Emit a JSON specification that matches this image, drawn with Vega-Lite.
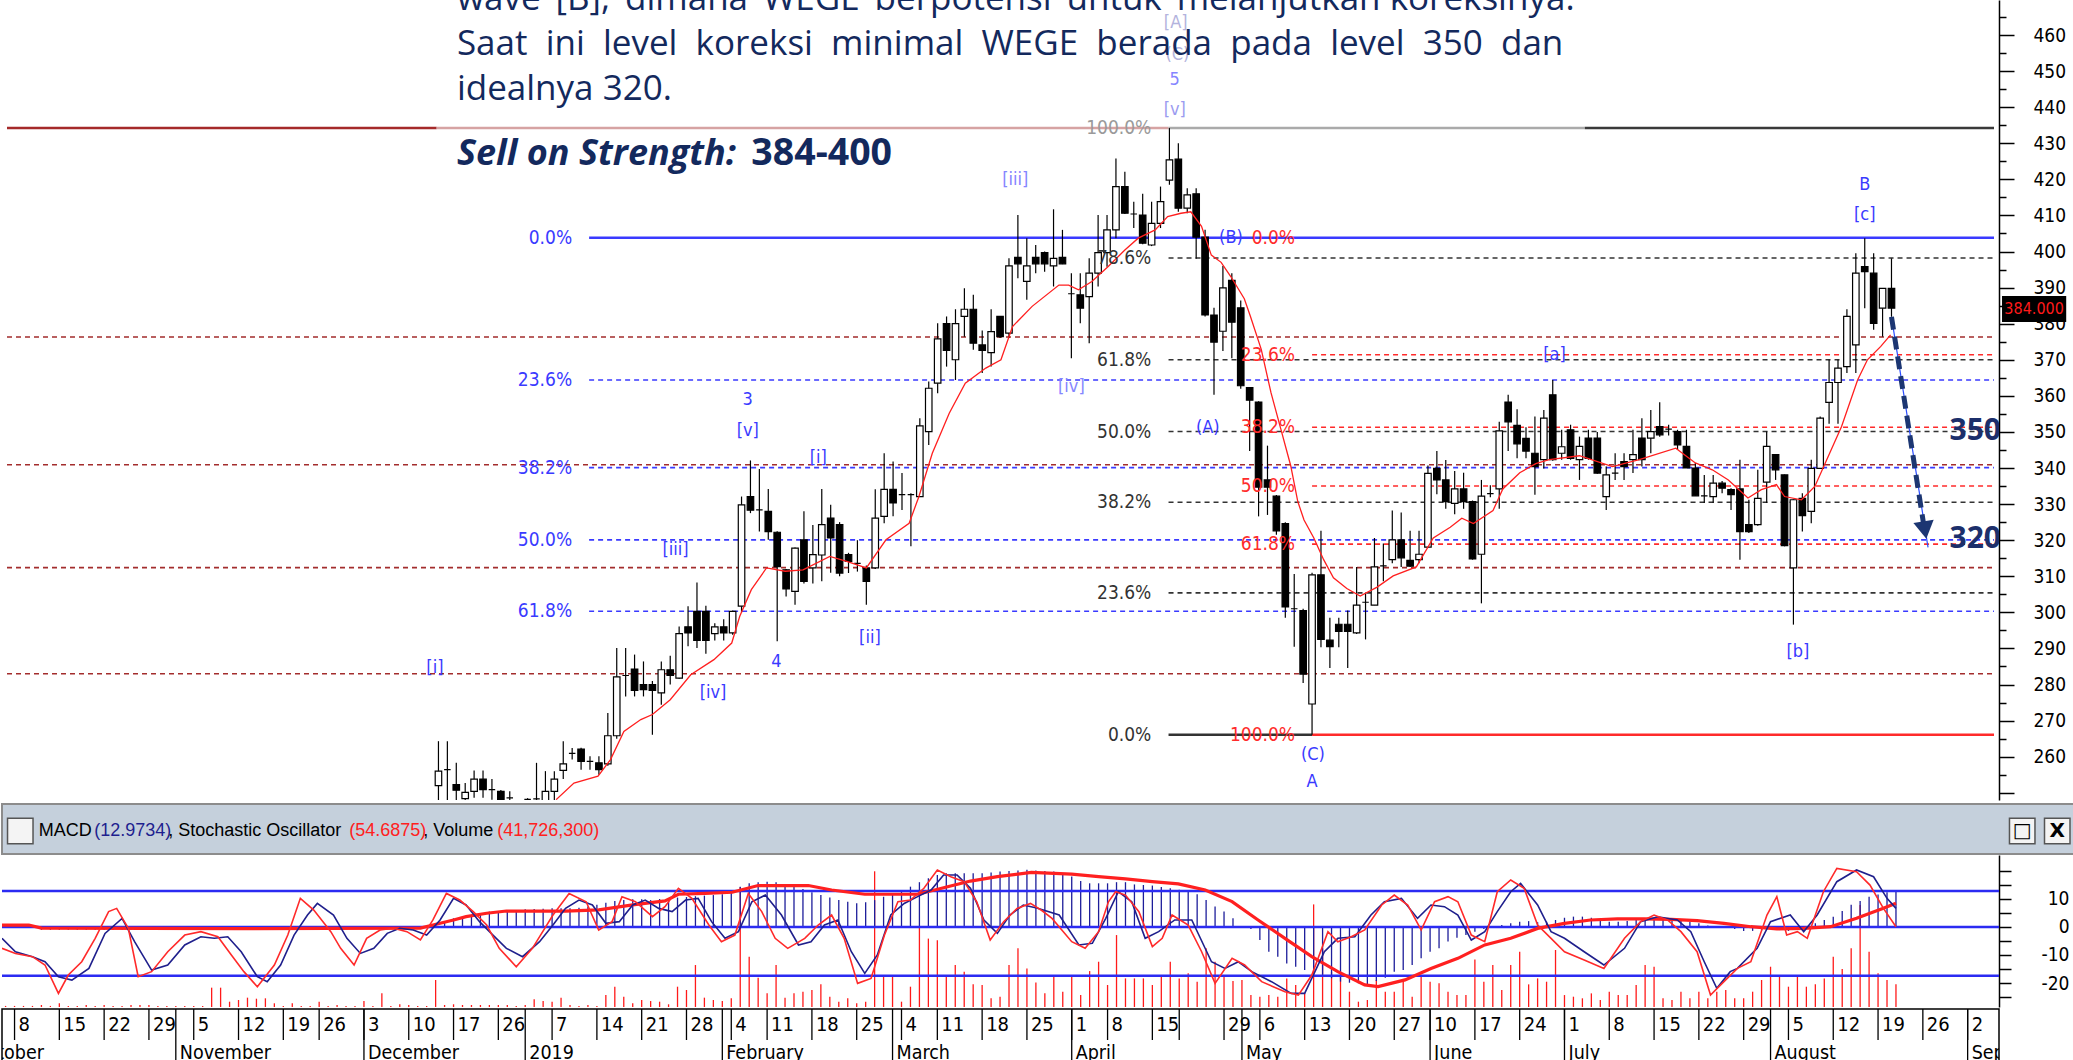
{
"$schema": "https://vega.github.io/schema/vega-lite/v6.json",
"background": "white",
"padding": 0,
"spacing": 0,
"resolve": {"scale": {"color": "independent"}},
"config": {"view": {"stroke": null}, "font": "Liberation Sans",
 "axis": {"labelOverlap": false, "labelFlush": false, "grid": false, "tickColor": "#000", "domainColor": "#000", "labelColor": "#000", "labelFont": "DejaVu Sans Condensed", "labelFontSize": 19, "tickWidth": 1.5, "domainWidth": 1.5, "title": null}},
"datasets": {
"ohlc": [
{"n":52,"o":252,"h":264.3,"l":246,"c":256},
{"n":53,"o":256.4,"h":264.3,"l":246,"c":256.4},
{"n":54,"o":252.3,"h":258.3,"l":247,"c":250.7},
{"n":55,"o":248.4,"h":252.7,"l":247,"c":250.1},
{"n":56,"o":250.4,"h":256.2,"l":248.6,"c":253.8},
{"n":57,"o":253.8,"h":256.2,"l":248.6,"c":250.9},
{"n":58,"o":250.9,"h":253.8,"l":248.1,"c":250.9},
{"n":59,"o":250.4,"h":250.8,"l":247,"c":248.2},
{"n":60,"o":248.6,"h":250.4,"l":247,"c":248.6},
{"n":61,"o":246,"h":247,"l":243,"c":245},
{"n":62,"o":248.2,"h":248.5,"l":245,"c":248.2},
{"n":63,"o":248.3,"h":258.3,"l":246,"c":248.3},
{"n":64,"o":247.5,"h":256,"l":246,"c":250.4},
{"n":65,"o":250.4,"h":256,"l":248,"c":253.8},
{"n":66,"o":256.2,"h":264.3,"l":253.8,"c":258},
{"n":67,"o":260.9,"h":262.4,"l":259.2,"c":260.9},
{"n":68,"o":262.1,"h":262.5,"l":256.4,"c":258.7},
{"n":69,"o":258.7,"h":260.1,"l":256.4,"c":258.7},
{"n":70,"o":258.3,"h":260.1,"l":255,"c":256.4},
{"n":71,"o":258,"h":272.1,"l":257.5,"c":265.8},
{"n":72,"o":265.8,"h":290.1,"l":265,"c":282.1},
{"n":73,"o":282.5,"h":290.1,"l":276.7,"c":282.5},
{"n":74,"o":284.3,"h":288.3,"l":276.7,"c":278.4},
{"n":75,"o":280,"h":286.4,"l":276.7,"c":278.6},
{"n":76,"o":280,"h":281,"l":266.1,"c":278.4},
{"n":77,"o":277.7,"h":286.4,"l":274.4,"c":284.1},
{"n":78,"o":284.1,"h":288,"l":280,"c":282.5},
{"n":79,"o":281.8,"h":296.1,"l":281.6,"c":294.1},
{"n":80,"o":296,"h":301.7,"l":290.6,"c":294.3},
{"n":81,"o":300.3,"h":308.3,"l":290.1,"c":292.2},
{"n":82,"o":300.3,"h":301.8,"l":288.5,"c":292.2},
{"n":83,"o":294.1,"h":297,"l":292.2,"c":296},
{"n":84,"o":296,"h":298.1,"l":292.2,"c":294.3},
{"n":85,"o":294.3,"h":300.5,"l":293.8,"c":300.3},
{"n":86,"o":301.7,"h":332.1,"l":300,"c":329.8},
{"n":87,"o":332.1,"h":342.1,"l":327.5,"c":328.3},
{"n":88,"o":328.4,"h":339.7,"l":322.4,"c":328.4},
{"n":89,"o":328,"h":334.2,"l":320.1,"c":322.4},
{"n":90,"o":322.2,"h":322.5,"l":292,"c":312.7},
{"n":91,"o":311.8,"h":312,"l":304.4,"c":306.5},
{"n":92,"o":305.8,"h":318,"l":302.1,"c":317.8},
{"n":93,"o":320.1,"h":328,"l":308,"c":308.6},
{"n":94,"o":312.3,"h":324.2,"l":308,"c":316},
{"n":95,"o":315.9,"h":334.2,"l":308.6,"c":324.3},
{"n":96,"o":326.1,"h":329.8,"l":311,"c":320.6},
{"n":97,"o":324.3,"h":325,"l":310,"c":310.9},
{"n":98,"o":316,"h":316.5,"l":310.9,"c":314.1},
{"n":99,"o":313.6,"h":320,"l":311.3,"c":313.6},
{"n":100,"o":312.3,"h":313,"l":302.1,"c":308.6},
{"n":101,"o":312.3,"h":334.1,"l":312,"c":326.1},
{"n":102,"o":326.6,"h":344.1,"l":324.7,"c":334.1},
{"n":103,"o":334.1,"h":341.8,"l":326.6,"c":330.3},
{"n":104,"o":332.6,"h":338.6,"l":328.4,"c":332.6},
{"n":105,"o":332.6,"h":333,"l":318.3,"c":332.6},
{"n":106,"o":332.1,"h":353.8,"l":332,"c":351.7},
{"n":107,"o":350.1,"h":364,"l":346.4,"c":362.1},
{"n":108,"o":363.5,"h":380.1,"l":360.7,"c":375.8},
{"n":109,"o":380,"h":382,"l":368.1,"c":372.6},
{"n":110,"o":370,"h":384,"l":364.4,"c":380},
{"n":111,"o":382,"h":389.8,"l":376.4,"c":384},
{"n":112,"o":384,"h":388,"l":372.8,"c":374.6},
{"n":113,"o":374.1,"h":378.1,"l":366.3,"c":372.6},
{"n":114,"o":372,"h":384,"l":368.1,"c":377.8},
{"n":115,"o":382,"h":382,"l":376,"c":376.4},
{"n":116,"o":377.4,"h":398.1,"l":376,"c":396},
{"n":117,"o":398.4,"h":410.1,"l":392.6,"c":396.6},
{"n":118,"o":391.7,"h":403.7,"l":386.6,"c":396},
{"n":119,"o":398.4,"h":401.8,"l":394,"c":396.6},
{"n":120,"o":399.7,"h":400,"l":394.4,"c":396.6},
{"n":121,"o":396,"h":411.7,"l":390.3,"c":398.1},
{"n":122,"o":398.4,"h":406,"l":396.5,"c":396.6},
{"n":123,"o":388.3,"h":394,"l":370.4,"c":388.3},
{"n":124,"o":388,"h":394,"l":380.1,"c":384.3},
{"n":125,"o":387.5,"h":398.1,"l":374.6,"c":394},
{"n":126,"o":394,"h":410.1,"l":390.3,"c":399.7},
{"n":127,"o":399.7,"h":410.1,"l":395.8,"c":406},
{"n":128,"o":406,"h":425.8,"l":403.7,"c":418},
{"n":129,"o":418,"h":422.1,"l":410.4,"c":410.6},
{"n":130,"o":410.4,"h":413.8,"l":406.5,"c":410.4},
{"n":131,"o":410.1,"h":416,"l":402,"c":402.3},
{"n":132,"o":401.8,"h":413.8,"l":401.5,"c":407.8},
{"n":133,"o":407.8,"h":418,"l":406.5,"c":413.8},
{"n":134,"o":419.8,"h":434.2,"l":418.5,"c":425.4},
{"n":135,"o":425.6,"h":430,"l":411,"c":412},
{"n":136,"o":412,"h":417.5,"l":410.6,"c":415.7},
{"n":137,"o":416,"h":417.5,"l":398,"c":404},
{"n":138,"o":404,"h":406,"l":382,"c":382.4},
{"n":139,"o":382.4,"h":384.4,"l":360.3,"c":374.9},
{"n":140,"o":377.9,"h":396,"l":372.4,"c":389.9},
{"n":141,"o":392,"h":394,"l":370.4,"c":380.4},
{"n":142,"o":384.4,"h":386.4,"l":362,"c":362.8},
{"n":143,"o":362.3,"h":362.3,"l":344.7,"c":358.8},
{"n":144,"o":358.3,"h":358.5,"l":326.6,"c":334.7},
{"n":145,"o":336.7,"h":346.2,"l":327,"c":334.7},
{"n":146,"o":332.2,"h":332.5,"l":321.5,"c":322.6},
{"n":147,"o":324.6,"h":325,"l":298.5,"c":301.5},
{"n":148,"o":301,"h":310.6,"l":290.5,"c":301},
{"n":149,"o":300.5,"h":301,"l":280.4,"c":282.9},
{"n":150,"o":274.6,"h":311,"l":266.1,"c":310.4},
{"n":151,"o":310.4,"h":322.6,"l":290.3,"c":292.5},
{"n":152,"o":292.3,"h":298.5,"l":284.6,"c":290.5},
{"n":153,"o":296.7,"h":298.5,"l":290.3,"c":294.7},
{"n":154,"o":296.7,"h":300.5,"l":284.6,"c":294.7},
{"n":155,"o":294.3,"h":312.6,"l":294,"c":302},
{"n":156,"o":302.8,"h":305.5,"l":292.5,"c":302.8},
{"n":157,"o":302,"h":320.6,"l":302,"c":312.6},
{"n":158,"o":312.9,"h":319.1,"l":308.6,"c":312.9},
{"n":159,"o":314.6,"h":328.2,"l":313.6,"c":320.1},
{"n":160,"o":320.1,"h":327.7,"l":312.6,"c":315.1},
{"n":161,"o":314.4,"h":322.6,"l":312.6,"c":312.8},
{"n":162,"o":314.6,"h":322.6,"l":313.6,"c":316.1},
{"n":163,"o":318.1,"h":340.7,"l":318,"c":338.5},
{"n":164,"o":339.9,"h":344.7,"l":332.7,"c":336.7},
{"n":165,"o":336.7,"h":342.2,"l":328.7,"c":330.7},
{"n":166,"o":330.2,"h":339.2,"l":327.2,"c":334.2},
{"n":167,"o":334.2,"h":338.7,"l":328.7,"c":330.7},
{"n":168,"o":330.7,"h":331,"l":314.6,"c":314.8},
{"n":169,"o":316.1,"h":336.7,"l":302.5,"c":332.2},
{"n":170,"o":332.9,"h":335.2,"l":331.9,"c":332.9},
{"n":171,"o":334.2,"h":352.8,"l":328.7,"c":350.3},
{"n":172,"o":358.3,"h":360.3,"l":344.7,"c":352.8},
{"n":173,"o":351.8,"h":356.3,"l":342.7,"c":346.7},
{"n":174,"o":348.2,"h":351.3,"l":342.7,"c":344.7},
{"n":175,"o":344.1,"h":354.3,"l":332.6,"c":340.4},
{"n":176,"o":342.3,"h":356.1,"l":339.9,"c":353.8},
{"n":177,"o":360.3,"h":364.4,"l":342,"c":342.3},
{"n":178,"o":344.1,"h":350.6,"l":342.3,"c":345.9},
{"n":179,"o":350.6,"h":352,"l":342.3,"c":342.7},
{"n":180,"o":342.3,"h":348.7,"l":336.7,"c":346},
{"n":181,"o":348.3,"h":350.6,"l":342.3,"c":342.7},
{"n":182,"o":348.3,"h":350,"l":338.4,"c":338.6},
{"n":183,"o":332.1,"h":340.4,"l":328.4,"c":338.1},
{"n":184,"o":338.6,"h":344.1,"l":336.7,"c":338.6},
{"n":185,"o":341.8,"h":344.1,"l":336.7,"c":340.4},
{"n":186,"o":342.3,"h":350.6,"l":338.6,"c":343.7},
{"n":187,"o":348.3,"h":353.8,"l":340.4,"c":342.3},
{"n":188,"o":348.3,"h":356.1,"l":344.1,"c":350.1},
{"n":189,"o":351.5,"h":358.2,"l":348.7,"c":349.2},
{"n":190,"o":350.8,"h":352,"l":349,"c":350.8},
{"n":191,"o":350.1,"h":350.6,"l":345,"c":346.4},
{"n":192,"o":346,"h":350.6,"l":340,"c":340},
{"n":193,"o":340,"h":341.4,"l":332.3,"c":332.3},
{"n":194,"o":332.3,"h":338.1,"l":330.3,"c":332.3},
{"n":195,"o":332.1,"h":338.1,"l":330.3,"c":335.8},
{"n":196,"o":335.8,"h":336.4,"l":333,"c":334.4},
{"n":197,"o":334,"h":334.4,"l":328.4,"c":332.6},
{"n":198,"o":334.2,"h":342.3,"l":314.6,"c":322.4},
{"n":199,"o":324.3,"h":331.2,"l":322,"c":322.4},
{"n":200,"o":324.3,"h":339.5,"l":324,"c":331.6},
{"n":201,"o":336.1,"h":350.1,"l":330.3,"c":346},
{"n":202,"o":343.7,"h":343.7,"l":336.7,"c":339.5},
{"n":203,"o":338.1,"h":338.2,"l":318.3,"c":318.5},
{"n":204,"o":312.3,"h":331.3,"l":296.6,"c":331.2},
{"n":205,"o":331.6,"h":333,"l":322.4,"c":326.8},
{"n":206,"o":328,"h":342.3,"l":324.7,"c":339.9},
{"n":207,"o":339.9,"h":354.3,"l":339.8,"c":353.8},
{"n":208,"o":358.2,"h":370,"l":352.3,"c":363.7},
{"n":209,"o":363.7,"h":370,"l":352.3,"c":367.7},
{"n":210,"o":368.1,"h":384,"l":366.3,"c":382},
{"n":211,"o":374.1,"h":399.5,"l":366.3,"c":394},
{"n":212,"o":395.8,"h":403.7,"l":384.3,"c":394.4},
{"n":213,"o":394,"h":399.5,"l":378.3,"c":380.1},
{"n":214,"o":384.3,"h":389.8,"l":376.4,"c":389.8},
{"n":215,"o":389.8,"h":398.1,"l":381.9,"c":384.3}
],
"ma": [
{"n":65.2,"v":248.1},{"n":67.2,"v":252.7},{"n":69.9,"v":254.6},{"n":71.3,"v":259.2},{"n":72.8,"v":267},{"n":74.7,"v":270.3},{"n":76,"v":271.7},{"n":78,"v":275.8},{"n":80.3,"v":282.7},{"n":82.9,"v":286.9},{"n":84.9,"v":291.5},{"n":85.8,"v":298.9},{"n":87.1,"v":306.3},{"n":88.8,"v":312.3},{"n":90.9,"v":311.4},{"n":92.9,"v":311.8},{"n":95.9,"v":315.5},{"n":97.8,"v":314.1},{"n":100,"v":312.3},{"n":102.2,"v":320.1},{"n":104.8,"v":324.7},{"n":105.9,"v":332.1},{"n":107.4,"v":344.1},{"n":109.3,"v":355.2},{"n":111.1,"v":363.5},{"n":113.4,"v":367.7},{"n":115.1,"v":370},{"n":116.4,"v":379.2},{"n":118.6,"v":384.8},{"n":121.6,"v":390.7},{"n":122.7,"v":390.7},{"n":123.8,"v":389.4},{"n":125.3,"v":391.7},{"n":127.1,"v":395.8},{"n":129,"v":400.4},{"n":130.5,"v":403.7},{"n":132.4,"v":406},{"n":133.8,"v":409.7},{"n":135.3,"v":410.6},{"n":136.4,"v":411},{"n":137.6,"v":407},{"n":138.7,"v":399},{"n":139.8,"v":397},{"n":140.9,"v":393},{"n":142.4,"v":386.9},{"n":143.1,"v":381.9},{"n":144.3,"v":372.9},{"n":145.4,"v":360.8},{"n":146.5,"v":350.8},{"n":147.6,"v":340.7},{"n":148.4,"v":330.7},{"n":149.1,"v":325.6},{"n":150.2,"v":320.6},{"n":151.3,"v":314.6},{"n":152.4,"v":309.6},{"n":153.9,"v":306.6},{"n":155.4,"v":304.5},{"n":157.3,"v":307},{"n":159.1,"v":310.1},{"n":161.7,"v":312.6},{"n":163.6,"v":320.6},{"n":165.5,"v":323.6},{"n":166.8,"v":326.1},{"n":168.1,"v":324.6},{"n":170.3,"v":328.2},{"n":171.4,"v":334.2},{"n":173.3,"v":338.7},{"n":175.1,"v":341.2},{"n":176.6,"v":342.3},{"n":180,"v":343.4},{"n":183.7,"v":340.4},{"n":186.7,"v":342.3},{"n":190.8,"v":345.5},{"n":193,"v":341.4},{"n":194.9,"v":339.5},{"n":196.7,"v":336.7},{"n":198.9,"v":331.7},{"n":200.4,"v":334},{"n":202.1,"v":335.4},{"n":203,"v":332.1},{"n":204.9,"v":331.2},{"n":206.4,"v":334.9},{"n":207.9,"v":343.2},{"n":209.4,"v":351.5},{"n":211.2,"v":364.4},{"n":212.3,"v":370},{"n":213.8,"v":373.7},{"n":214.9,"v":376.9}
],
"fib": [
{"p":403.8,"a":68.9,"b":226.5,"g":"b","s":"s"},
{"p":364.4,"a":68.9,"b":226.5,"g":"b","s":"d"},
{"p":340.1,"a":68.9,"b":226.5,"g":"b","s":"d"},
{"p":320.1,"a":68.9,"b":226.5,"g":"b","s":"d"},
{"p":300.3,"a":68.9,"b":226.5,"g":"b","s":"d"},
{"p":398.2,"a":133.9,"b":226.5,"g":"k","s":"d"},
{"p":370.0,"a":133.9,"b":226.5,"g":"k","s":"d"},
{"p":350.1,"a":133.9,"b":226.5,"g":"k","s":"d"},
{"p":330.5,"a":133.9,"b":226.5,"g":"k","s":"d"},
{"p":305.4,"a":133.9,"b":226.5,"g":"k","s":"d"},
{"p":266.1,"a":133.9,"b":150,"g":"k","s":"s"},
{"p":371.4,"a":150,"b":226.5,"g":"r","s":"d"},
{"p":351.3,"a":150,"b":226.5,"g":"r","s":"d"},
{"p":335.0,"a":150,"b":226.5,"g":"r","s":"d"},
{"p":318.9,"a":150,"b":226.5,"g":"r","s":"d"},
{"p":266.1,"a":150,"b":226.5,"g":"r","s":"s"},
{"p":376.3,"a":3.6,"b":226.5,"g":"dr","s":"d"},
{"p":340.9,"a":3.6,"b":226.5,"g":"dr","s":"d"},
{"p":312.4,"a":3.6,"b":226.5,"g":"dr","s":"d"},
{"p":283.0,"a":3.6,"b":226.5,"g":"dr","s":"d"},
{"p":434.2,"a":3.6,"b":51.8,"g":"t1","s":"s"},
{"p":434.2,"a":51.8,"b":133.9,"g":"t2","s":"s"},
{"p":434.2,"a":133.9,"b":180.6,"g":"t3","s":"s"},
{"p":434.2,"a":180.6,"b":226.5,"g":"t4","s":"s"}
],
"fiblab": [
{"t":"0.0%","n":67.0,"p":403.8,"g":"b"},
{"t":"23.6%","n":67.0,"p":364.4,"g":"b"},
{"t":"38.2%","n":67.0,"p":340.1,"g":"b"},
{"t":"50.0%","n":67.0,"p":320.1,"g":"b"},
{"t":"61.8%","n":67.0,"p":300.3,"g":"b"},
{"t":"100.0%","n":131.97,"p":434.2,"g":"gl"},
{"t":"78.6%","n":131.97,"p":398.2,"g":"k"},
{"t":"61.8%","n":131.97,"p":370.0,"g":"k"},
{"t":"50.0%","n":131.97,"p":350.1,"g":"k"},
{"t":"38.2%","n":131.97,"p":330.5,"g":"k"},
{"t":"23.6%","n":131.97,"p":305.4,"g":"k"},
{"t":"0.0%","n":131.97,"p":266.1,"g":"k"},
{"t":"0.0%","n":148.1,"p":403.8,"g":"r"},
{"t":"23.6%","n":148.1,"p":371.4,"g":"r"},
{"t":"38.2%","n":148.1,"p":351.3,"g":"r"},
{"t":"50.0%","n":148.1,"p":335.0,"g":"r"},
{"t":"61.8%","n":148.1,"p":318.9,"g":"r"},
{"t":"100.0%","n":148.1,"p":266.1,"g":"r"}
],
"wave": [
{"t":"[i]","n":51.6,"p":284.7,"g":"w"},
{"t":"[iii]","n":78.6,"p":317.3,"g":"w"},
{"t":"[iv]","n":82.8,"p":277.7,"g":"w"},
{"t":"3","n":86.7,"p":358.9,"g":"w"},
{"t":"[v]","n":86.7,"p":350.3,"g":"w"},
{"t":"4","n":89.9,"p":286.3,"g":"w"},
{"t":"[i]","n":94.6,"p":342.8,"g":"w"},
{"t":"[ii]","n":100.4,"p":293.0,"g":"w"},
{"t":"[iii]","n":116.7,"p":419.8,"g":"p2"},
{"t":"[iv]","n":123.0,"p":362.5,"g":"p2"},
{"t":"(B)","n":140.9,"p":403.8,"g":"w"},
{"t":"(A)","n":138.3,"p":351.0,"g":"w"},
{"t":"(C)","n":150.1,"p":260.6,"g":"w"},
{"t":"A","n":150.0,"p":253.1,"g":"w"},
{"t":"[a]","n":177.2,"p":371.4,"g":"w"},
{"t":"B","n":212.0,"p":418.5,"g":"w"},
{"t":"[c]","n":212.0,"p":410.0,"g":"w"},
{"t":"[b]","n":204.5,"p":289.1,"g":"w"},
{"t":"[A]","n":134.7,"p":463.3,"g":"p1"},
{"t":"(C)","n":134.9,"p":454.5,"g":"p1"},
{"t":"5","n":134.6,"p":447.5,"g":"p2"},
{"t":"[v]","n":134.6,"p":439.2,"g":"p3"}
],
"slide": [
{"t":"wave \u2006[B], \u2006dimana \u2006WEGE \u2006berpotensi \u2006untuk \u2006melanjutkan koreksinya.","n":54.07,"p":466.9},
{"t":"Saat \u00a0ini \u00a0level \u00a0koreksi \u00a0minimal \u00a0WEGE \u00a0berada \u00a0pada \u00a0level \u00a0350 \u00a0dan","n":54.07,"p":454.5},
{"t":"idealnya 320.","n":54.07,"p":442.0}
],
"sos": [{"t":"Sell on Strength:","n":54.07,"p":424.0}],
"sosv": [{"t":"384-400","n":87.1,"p":424.0}],
"targets": [{"t":"350","n":224.4,"p":350.2},{"t":"320","n":224.4,"p":320.3}],
"proj": [{"n":215,"p":381.9,"n2":218.6,"p2":324.5}],
"projthin": [{"n":215,"p":381.9,"n2":219.1,"p2":318.0}],
"head": [{"n":218.75,"p":322.8}],
"tag": [{"t":"384.000","p":384.0}],
"hdr": [
{"t":"MACD","n":7.70,"g":"lab"},
{"t":"(12.9734)","n":13.90,"g":"m"},
{"t":", Stochastic Oscillator","n":22.15,"g":"lab"},
{"t":"(54.6875)","n":42.35,"g":"s"},
{"t":", Volume","n":50.61,"g":"lab"},
{"t":"(41,726,300)","n":58.87,"g":"s"}
],
"btn": [{"n":5.64,"t":""},{"n":229.07,"t":"\u25a1"},{"n":232.98,"t":"X"}],
"vol": [
{"n":4,"v":2},{"n":5,"v":2},{"n":6,"v":2},{"n":7,"v":2},{"n":8,"v":3.7},{"n":9,"v":2},{"n":10,"v":6.8},{"n":11,"v":2},{"n":12,"v":2},{"n":13,"v":3.7},{"n":14,"v":2},{"n":15,"v":3.7},{"n":16,"v":2},{"n":17,"v":2},{"n":18,"v":3.7},{"n":19,"v":3.7},{"n":20,"v":3.7},{"n":21,"v":2},{"n":22,"v":2},{"n":23,"v":2},{"n":24,"v":2},{"n":25,"v":2},{"n":26,"v":2},{"n":27,"v":35.6},{"n":28,"v":35.6},{"n":29,"v":9.8},{"n":30,"v":12.9},{"n":31,"v":17.2},{"n":32,"v":15.3},{"n":33,"v":16},{"n":34,"v":6.8},{"n":35,"v":2},{"n":36,"v":6.8},{"n":37,"v":2},{"n":38,"v":2},{"n":39,"v":9.8},{"n":40,"v":2},{"n":41,"v":3.7},{"n":42,"v":2},{"n":43,"v":2},{"n":44,"v":11},{"n":45,"v":2},{"n":46,"v":25.1},{"n":47,"v":2},{"n":48,"v":5},{"n":49,"v":3.7},{"n":50,"v":2},{"n":51,"v":2},{"n":52,"v":49.7},{"n":53,"v":3.7},{"n":54,"v":5},{"n":55,"v":3.7},{"n":56,"v":3.7},{"n":57,"v":3.7},{"n":58,"v":3.7},{"n":59,"v":3.7},{"n":60,"v":3.7},{"n":61,"v":2},{"n":62,"v":3.7},{"n":63,"v":14.1},{"n":64,"v":11},{"n":65,"v":9.8},{"n":66,"v":17.2},{"n":67,"v":3.7},{"n":68,"v":2},{"n":69,"v":3.7},{"n":70,"v":2},{"n":71,"v":22},{"n":72,"v":37.4},{"n":73,"v":19},{"n":74,"v":6.8},{"n":75,"v":12.9},{"n":76,"v":11},{"n":77,"v":9.8},{"n":78,"v":5},{"n":79,"v":37.4},{"n":80,"v":31.3},{"n":81,"v":77.3},{"n":82,"v":17.2},{"n":83,"v":12.9},{"n":84,"v":11},{"n":85,"v":16},{"n":86,"v":221},{"n":87,"v":92.6},{"n":88,"v":54},{"n":89,"v":25.1},{"n":90,"v":77.3},{"n":91,"v":17.2},{"n":92,"v":25.1},{"n":93,"v":28.2},{"n":94,"v":31.3},{"n":95,"v":41.7},{"n":96,"v":19},{"n":97,"v":9.8},{"n":98,"v":16},{"n":99,"v":6.8},{"n":100,"v":9.8},{"n":101,"v":250},{"n":102,"v":58.9},{"n":103,"v":58.9},{"n":104,"v":9.8},{"n":105,"v":37.4},{"n":106,"v":146},{"n":107,"v":126},{"n":108,"v":123},{"n":109,"v":55.8},{"n":110,"v":77.3},{"n":111,"v":65},{"n":112,"v":41.7},{"n":113,"v":40.5},{"n":114,"v":16},{"n":115,"v":19},{"n":116,"v":77.3},{"n":117,"v":108},{"n":118,"v":71.1},{"n":119,"v":45},{"n":120,"v":25.1},{"n":121,"v":58.9},{"n":122,"v":28.2},{"n":123,"v":58.9},{"n":124,"v":22},{"n":125,"v":66.2},{"n":126,"v":83.4},{"n":127,"v":40.5},{"n":128,"v":132.5},{"n":129,"v":52.7},{"n":130,"v":52.7},{"n":131,"v":52.7},{"n":132,"v":40.5},{"n":133,"v":58.9},{"n":134,"v":83.4},{"n":135,"v":52.7},{"n":136,"v":62},{"n":137,"v":46.6},{"n":138,"v":108},{"n":139,"v":83.4},{"n":140,"v":58.9},{"n":141,"v":47.8},{"n":142,"v":49.7},{"n":143,"v":22},{"n":144,"v":19},{"n":145,"v":22},{"n":146,"v":19},{"n":147,"v":52.7},{"n":148,"v":40.5},{"n":149,"v":25.1},{"n":150,"v":189},{"n":151,"v":108},{"n":152,"v":65},{"n":153,"v":58.9},{"n":154,"v":28.2},{"n":155,"v":9.8},{"n":156,"v":12.9},{"n":157,"v":49.7},{"n":158,"v":28.2},{"n":159,"v":28.2},{"n":160,"v":46.6},{"n":161,"v":19},{"n":162,"v":55.8},{"n":163,"v":46.6},{"n":164,"v":43.6},{"n":165,"v":28.2},{"n":166,"v":22},{"n":167,"v":22},{"n":168,"v":87.6},{"n":169,"v":46.6},{"n":170,"v":77.3},{"n":171,"v":31.3},{"n":172,"v":77.3},{"n":173,"v":101.8},{"n":174,"v":41.7},{"n":175,"v":52.7},{"n":176,"v":46.6},{"n":177,"v":105},{"n":178,"v":22},{"n":179,"v":19},{"n":180,"v":16},{"n":181,"v":25.1},{"n":182,"v":12.9},{"n":183,"v":28.2},{"n":184,"v":22},{"n":185,"v":22},{"n":186,"v":40.5},{"n":187,"v":77.3},{"n":188,"v":74.2},{"n":189,"v":16},{"n":190,"v":12.9},{"n":191,"v":28.2},{"n":192,"v":16},{"n":193,"v":28.2},{"n":194,"v":16},{"n":195,"v":28.2},{"n":196,"v":31.3},{"n":197,"v":16},{"n":198,"v":16},{"n":199,"v":28.2},{"n":200,"v":49.7},{"n":201,"v":74.2},{"n":202,"v":58.9},{"n":203,"v":37.4},{"n":204,"v":55.8},{"n":205,"v":37.4},{"n":206,"v":41.7},{"n":207,"v":52.7},{"n":208,"v":92.6},{"n":209,"v":69.9},{"n":210,"v":108},{"n":211,"v":187.7},{"n":212,"v":101.8},{"n":213,"v":62},{"n":214,"v":49.7},{"n":215,"v":41.7}
],
"hist": [
{"n":4,"h":0.3},{"n":5,"h":0.3},{"n":6,"h":0.3},{"n":7,"h":0.3},{"n":8,"h":-1},{"n":9,"h":-1},{"n":10,"h":-1},{"n":11,"h":-1},{"n":12,"h":-1},{"n":13,"h":-1},{"n":14,"h":-1},{"n":15,"h":-1},{"n":16,"h":-1},{"n":17,"h":-1},{"n":18,"h":-1},{"n":19,"h":-1},{"n":20,"h":-1},{"n":21,"h":-1},{"n":22,"h":-1},{"n":23,"h":-1},{"n":24,"h":-1},{"n":25,"h":-1},{"n":26,"h":-1},{"n":27,"h":-0.6},{"n":28,"h":-0.6},{"n":29,"h":-0.6},{"n":30,"h":-0.6},{"n":31,"h":-0.6},{"n":32,"h":-0.6},{"n":33,"h":-0.6},{"n":34,"h":-0.6},{"n":35,"h":-0.6},{"n":36,"h":-0.6},{"n":37,"h":-0.6},{"n":38,"h":-0.4},{"n":39,"h":-0.4},{"n":40,"h":-0.4},{"n":41,"h":-0.4},{"n":42,"h":-0.4},{"n":43,"h":-0.4},{"n":44,"h":-0.4},{"n":45,"h":-0.4},{"n":46,"h":-0.4},{"n":47,"h":-0.4},{"n":48,"h":-0.4},{"n":49,"h":-0.4},{"n":50,"h":-0.4},
{"n":51,"h":0.1},{"n":52,"h":1.0},{"n":53,"h":2.1},{"n":54,"h":3.1},{"n":55,"h":3.7},{"n":56,"h":4.3},{"n":57,"h":4.9},{"n":58,"h":5.5},{"n":59,"h":5.7},{"n":60,"h":5.9},{"n":61,"h":6.1},{"n":62,"h":6.3},{"n":63,"h":6.4},{"n":64,"h":6.5},{"n":65,"h":6.7},{"n":66,"h":6.7},{"n":67,"h":6.7},{"n":68,"h":6.9},{"n":69,"h":7.3},{"n":70,"h":7.9},{"n":71,"h":8.7},{"n":72,"h":9.3},{"n":73,"h":9.6},{"n":74,"h":9.9},{"n":75,"h":9.9},{"n":76,"h":9.6},{"n":77,"h":10.0},{"n":78,"h":10.2},{"n":79,"h":10.5},{"n":80,"h":10.7},{"n":81,"h":11.0},{"n":82,"h":11.2},{"n":83,"h":11.4},{"n":84,"h":11.7},{"n":85,"h":12.9},{"n":86,"h":14.4},{"n":87,"h":15.6},{"n":88,"h":16.0},{"n":89,"h":16.2},{"n":90,"h":16.0},{"n":91,"h":15.2},{"n":92,"h":14.4},{"n":93,"h":13.6},{"n":94,"h":12.4},{"n":95,"h":11.4},{"n":96,"h":10.5},{"n":97,"h":9.6},{"n":98,"h":9.0},{"n":99,"h":8.5},{"n":100,"h":8.8},{"n":101,"h":9.6},{"n":102,"h":10.8},{"n":103,"h":12.0},{"n":104,"h":13.2},{"n":105,"h":14.4},{"n":106,"h":16.0},{"n":107,"h":17.4},{"n":108,"h":18.6},{"n":109,"h":19.2},{"n":110,"h":19.2},{"n":111,"h":19.2},{"n":112,"h":19.2},{"n":113,"h":19.2},{"n":114,"h":19.5},{"n":115,"h":19.8},{"n":116,"h":20.0},{"n":117,"h":20.2},{"n":118,"h":20.4},{"n":119,"h":20.2},{"n":120,"h":20.0},{"n":121,"h":19.8},{"n":122,"h":19.2},{"n":123,"h":18.0},{"n":124,"h":16.4},{"n":125,"h":15.6},{"n":126,"h":15.6},{"n":127,"h":15.6},{"n":128,"h":16.0},{"n":129,"h":16.0},{"n":130,"h":15.2},{"n":131,"h":15.0},{"n":132,"h":14.8},{"n":133,"h":14.3},{"n":134,"h":13.8},{"n":135,"h":13.3},{"n":136,"h":12.6},{"n":137,"h":11.7},{"n":138,"h":9.6},{"n":139,"h":7.3},{"n":140,"h":5.5},{"n":141,"h":3.1},{"n":142,"h":0.1},{"n":143,"h":-0.7},{"n":144,"h":-4.6},{"n":145,"h":-8.8},{"n":146,"h":-10.6},{"n":147,"h":-13.0},{"n":148,"h":-14.2},{"n":149,"h":-15.4},{"n":150,"h":-16.0},{"n":151,"h":-17.1},{"n":152,"h":-18.3},{"n":153,"h":-19.5},{"n":154,"h":-19.9},{"n":155,"h":-20.1},{"n":156,"h":-20.5},{"n":157,"h":-19.3},{"n":158,"h":-18.1},{"n":159,"h":-16.0},{"n":160,"h":-15.4},{"n":161,"h":-13.6},{"n":162,"h":-11.2},{"n":163,"h":-8.8},{"n":164,"h":-7.6},{"n":165,"h":-5.2},{"n":166,"h":-3.8},{"n":167,"h":-2.9},{"n":168,"h":-1.7},{"n":169,"h":-0.7},{"n":170,"h":-0.2},{"n":171,"h":0.7},{"n":172,"h":1.3},{"n":173,"h":1.9},{"n":174,"h":2.1},{"n":175,"h":1.7},{"n":176,"h":1.9},{"n":177,"h":2.5},{"n":178,"h":3.3},{"n":179,"h":3.7},{"n":180,"h":3.7},{"n":181,"h":3.3},{"n":182,"h":2.5},{"n":183,"h":1.9},{"n":184,"h":1.9},{"n":185,"h":2.1},{"n":186,"h":2.5},{"n":187,"h":2.9},{"n":188,"h":3.1},{"n":189,"h":3.1},{"n":190,"h":2.9},{"n":191,"h":2.5},{"n":192,"h":1.9},{"n":193,"h":1.3},{"n":194,"h":0.5},{"n":195,"h":0.1},{"n":196,"h":-0.2},{"n":197,"h":-0.7},{"n":198,"h":-1.4},{"n":199,"h":-1.4},{"n":200,"h":-1.2},{"n":201,"h":-0.7},{"n":202,"h":-1.1},{"n":203,"h":-1.4},{"n":204,"h":-0.7},{"n":205,"h":0.1},{"n":206,"h":1.3},{"n":207,"h":2.5},{"n":208,"h":3.7},{"n":209,"h":5.7},{"n":210,"h":7.9},{"n":211,"h":9.3},{"n":212,"h":10.8},{"n":213,"h":11.6},{"n":214,"h":12.4},{"n":215,"h":12.97}
],
"sig": [
{"n":3.6,"v":0.7},{"n":6.6,"v":0.7},{"n":8,"v":-0.4},{"n":20,"v":-0.5},{"n":30,"v":-0.6},{"n":40,"v":-0.5},{"n":50.3,"v":-0.4},{"n":51.7,"v":0.7},{"n":54,"v":2.5},{"n":55.4,"v":3.7},{"n":57.7,"v":4.9},{"n":59.9,"v":5.7},{"n":66.5,"v":5.7},{"n":70.2,"v":6.1},{"n":74.0,"v":7.9},{"n":77.6,"v":9.3},{"n":79.1,"v":11.7},{"n":82.1,"v":12.0},{"n":85.1,"v":12.4},{"n":88.0,"v":14.8},{"n":93.6,"v":14.8},{"n":96.2,"v":13.2},{"n":99.9,"v":11.7},{"n":105.8,"v":11.7},{"n":108.7,"v":14.0},{"n":111.7,"v":16.4},{"n":114.7,"v":18.0},{"n":118.5,"v":19.5},{"n":123,"v":18.9},{"n":126,"v":18.0},{"n":129,"v":17.2},{"n":132,"v":16.2},{"n":134.9,"v":15.4},{"n":137.9,"v":13.2},{"n":140.9,"v":9.05},{"n":143.8,"v":2.5},{"n":146.8,"v":-4.05},{"n":149.8,"v":-10.6},{"n":152.7,"v":-15.95},{"n":155.7,"v":-20.7},{"n":157.2,"v":-21.3},{"n":160.2,"v":-18.9},{"n":163.1,"v":-14.8},{"n":166.1,"v":-11.2},{"n":169.1,"v":-6.4},{"n":172.0,"v":-4.05},{"n":175,"v":-0.5},{"n":178,"v":1.3},{"n":180.9,"v":2.5},{"n":183.9,"v":2.9},{"n":186.9,"v":2.9},{"n":189.9,"v":2.7},{"n":192.8,"v":2.3},{"n":195.8,"v":1.3},{"n":198.8,"v":0.1},{"n":201.7,"v":-0.7},{"n":204.7,"v":-0.5},{"n":207.7,"v":0.1},{"n":210.6,"v":3.1},{"n":213.6,"v":6.7},{"n":215,"v":8.5}
],
"hl": [{"v":12.86},{"v":0},{"v":-17.4}],
"k": [
{"n":3.6,"v":39.4},{"n":5.1,"v":35.8},{"n":7.0,"v":33.5},{"n":8.4,"v":27.6},{"n":9.9,"v":7.5},{"n":11.0,"v":20.5},{"n":12.5,"v":29.9},{"n":14.0,"v":46.5},{"n":15.5,"v":65.4},{"n":16.4,"v":67.7},{"n":17.7,"v":53.6},{"n":18.8,"v":19.3},{"n":20.3,"v":22.9},{"n":22.1,"v":37.0},{"n":24.0,"v":48.8},{"n":25.8,"v":51.2},{"n":27.7,"v":47.6},{"n":29.2,"v":34.7},{"n":30.6,"v":22.9},{"n":32.1,"v":12.2},{"n":34.0,"v":27.6},{"n":35.5,"v":48.8},{"n":36.9,"v":74.8},{"n":38.4,"v":66.5},{"n":40.3,"v":51.2},{"n":41.4,"v":39.4},{"n":42.9,"v":27.6},{"n":44.3,"v":46.5},{"n":45.8,"v":52.4},{"n":47.3,"v":53.6},{"n":48.8,"v":51.2},{"n":50.3,"v":45.3},{"n":51.7,"v":59.5},{"n":53.2,"v":78.3},{"n":54.7,"v":73.6},{"n":56.2,"v":65.4},{"n":57.7,"v":55.9},{"n":59.1,"v":39.4},{"n":61.0,"v":26.4},{"n":62.8,"v":39.4},{"n":65.1,"v":63.0},{"n":66.9,"v":78.3},{"n":68.8,"v":72.4},{"n":70.2,"v":52.4},{"n":71.7,"v":58.3},{"n":72.8,"v":76.0},{"n":74.3,"v":72.4},{"n":76.2,"v":61.8},{"n":77.6,"v":68.9},{"n":79.1,"v":81.9},{"n":80.6,"v":74.8},{"n":82.5,"v":55.9},{"n":83.9,"v":44.1},{"n":85.4,"v":48.8},{"n":86.9,"v":78.3},{"n":88.4,"v":65.4},{"n":89.9,"v":46.5},{"n":91.3,"v":39.4},{"n":93.2,"v":46.5},{"n":94.7,"v":55.9},{"n":96.2,"v":63.0},{"n":97.6,"v":46.5},{"n":99.1,"v":14.6},{"n":100.6,"v":18.1},{"n":102.1,"v":48.8},{"n":103.6,"v":72.4},{"n":105.0,"v":73.6},{"n":106.5,"v":81.9},{"n":108.0,"v":94.9},{"n":109.5,"v":90.1},{"n":111.0,"v":86.6},{"n":112.4,"v":72.4},{"n":113.9,"v":45.3},{"n":115.4,"v":58.3},{"n":116.9,"v":67.7},{"n":118.4,"v":71.2},{"n":119.7,"v":66.0},{"n":120.8,"v":60.6},{"n":123.0,"v":44.1},{"n":124.5,"v":39.4},{"n":126.0,"v":51.2},{"n":127.1,"v":72.4},{"n":127.9,"v":79.5},{"n":129.0,"v":77.1},{"n":130.5,"v":65.4},{"n":132.0,"v":40.6},{"n":133.1,"v":46.5},{"n":134.2,"v":63.0},{"n":136.0,"v":55.9},{"n":137.5,"v":37.0},{"n":139.0,"v":14.6},{"n":140.9,"v":32.3},{"n":142.3,"v":27.6},{"n":144.2,"v":15.8},{"n":146.8,"v":8.7},{"n":148.3,"v":6.3},{"n":149.8,"v":20.5},{"n":151.6,"v":51.2},{"n":152.7,"v":44.1},{"n":154.2,"v":47.6},{"n":155.7,"v":52.4},{"n":157.6,"v":70.1},{"n":159.0,"v":77.1},{"n":160.5,"v":70.1},{"n":162.0,"v":52.4},{"n":163.5,"v":72.4},{"n":165.0,"v":76.0},{"n":166.1,"v":72.4},{"n":167.6,"v":48.8},{"n":169.1,"v":44.1},{"n":170.5,"v":79.5},{"n":172.0,"v":87.8},{"n":173.5,"v":81.9},{"n":175.0,"v":55.9},{"n":176.5,"v":46.5},{"n":178.0,"v":37.0},{"n":180.2,"v":31.1},{"n":182.4,"v":25.2},{"n":184.7,"v":46.5},{"n":186.5,"v":58.3},{"n":188.0,"v":63.0},{"n":189.5,"v":59.5},{"n":191.0,"v":51.2},{"n":192.8,"v":37.0},{"n":194.3,"v":6.3},{"n":195.8,"v":15.8},{"n":197.3,"v":25.2},{"n":198.8,"v":29.9},{"n":200.6,"v":63.0},{"n":201.7,"v":76.0},{"n":202.8,"v":48.8},{"n":204.0,"v":51.2},{"n":205.1,"v":46.5},{"n":206.9,"v":79.5},{"n":208.4,"v":96.0},{"n":210.6,"v":93.7},{"n":212.1,"v":84.2},{"n":213.6,"v":67.7},{"n":215.0,"v":54.7}
],
"d": [
{"n":3.6,"v":46.5},{"n":5.1,"v":37.0},{"n":7.0,"v":33.5},{"n":8.4,"v":29.9},{"n":9.9,"v":19.3},{"n":11.4,"v":16.9},{"n":13.3,"v":25.2},{"n":15.1,"v":50.0},{"n":17.0,"v":60.6},{"n":18.4,"v":44.1},{"n":20.3,"v":24.0},{"n":22.1,"v":27.6},{"n":24.0,"v":41.8},{"n":25.8,"v":47.6},{"n":27.3,"v":46.5},{"n":28.8,"v":47.6},{"n":30.3,"v":37.0},{"n":32.1,"v":19.3},{"n":33.2,"v":15.8},{"n":34.7,"v":27.6},{"n":36.2,"v":48.8},{"n":37.7,"v":63.0},{"n":38.8,"v":71.2},{"n":40.6,"v":63.0},{"n":42.1,"v":46.5},{"n":43.6,"v":35.8},{"n":45.1,"v":39.4},{"n":46.6,"v":50.0},{"n":48.0,"v":53.6},{"n":49.5,"v":52.4},{"n":51.0,"v":48.8},{"n":52.5,"v":59.5},{"n":54.0,"v":74.8},{"n":55.4,"v":70.1},{"n":56.9,"v":58.3},{"n":58.4,"v":48.8},{"n":59.9,"v":39.4},{"n":61.7,"v":33.5},{"n":63.6,"v":44.1},{"n":65.1,"v":55.9},{"n":66.5,"v":67.7},{"n":68.0,"v":73.6},{"n":69.5,"v":70.1},{"n":71.0,"v":57.1},{"n":72.5,"v":58.3},{"n":74.0,"v":70.1},{"n":75.4,"v":73.6},{"n":76.9,"v":67.7},{"n":78.4,"v":65.4},{"n":79.9,"v":73.6},{"n":81.3,"v":74.8},{"n":82.8,"v":58.3},{"n":84.3,"v":46.5},{"n":85.8,"v":51.2},{"n":87.3,"v":72.4},{"n":88.8,"v":77.1},{"n":90.6,"v":63.0},{"n":92.5,"v":41.8},{"n":93.9,"v":44.1},{"n":95.4,"v":55.9},{"n":96.9,"v":59.5},{"n":98.4,"v":37.0},{"n":99.9,"v":21.7},{"n":101.3,"v":34.7},{"n":102.8,"v":63.0},{"n":104.3,"v":71.2},{"n":105.8,"v":76.0},{"n":107.3,"v":80.7},{"n":108.7,"v":91.3},{"n":110.2,"v":91.3},{"n":111.7,"v":81.9},{"n":113.2,"v":59.5},{"n":114.7,"v":50.0},{"n":116.1,"v":63.0},{"n":117.6,"v":70.1},{"n":119.1,"v":68.0},{"n":121.6,"v":63.0},{"n":123.8,"v":41.8},{"n":125.3,"v":43.0},{"n":126.8,"v":60.6},{"n":128.2,"v":79.5},{"n":129.7,"v":72.4},{"n":131.2,"v":46.5},{"n":132.7,"v":51.2},{"n":134.5,"v":59.5},{"n":136.4,"v":59.5},{"n":138.6,"v":29.9},{"n":140.1,"v":25.2},{"n":141.6,"v":29.9},{"n":143.1,"v":22.9},{"n":145.3,"v":15.8},{"n":147.5,"v":7.5},{"n":149.0,"v":7.5},{"n":151.2,"v":37.0},{"n":152.7,"v":46.5},{"n":154.6,"v":47.6},{"n":156.4,"v":63.0},{"n":157.9,"v":72.4},{"n":159.8,"v":74.8},{"n":161.6,"v":60.6},{"n":163.1,"v":70.1},{"n":164.6,"v":68.9},{"n":166.1,"v":63.0},{"n":167.6,"v":45.3},{"n":169.1,"v":51.2},{"n":170.5,"v":65.4},{"n":172.0,"v":79.5},{"n":173.1,"v":85.4},{"n":175.0,"v":70.1},{"n":176.5,"v":51.2},{"n":178.0,"v":46.5},{"n":180.2,"v":37.0},{"n":182.4,"v":27.6},{"n":184.7,"v":39.4},{"n":186.5,"v":58.3},{"n":188.4,"v":61.8},{"n":190.6,"v":59.5},{"n":192.1,"v":51.2},{"n":193.6,"v":29.9},{"n":195.0,"v":11.1},{"n":196.5,"v":22.9},{"n":197.3,"v":25.2},{"n":199.5,"v":39.4},{"n":201.0,"v":58.3},{"n":203.2,"v":63.0},{"n":204.7,"v":51.2},{"n":206.2,"v":63.0},{"n":208.4,"v":86.6},{"n":210.6,"v":94.9},{"n":212.5,"v":90.1},{"n":214.0,"v":74.8},{"n":215.0,"v":67.7}
],
"weeks": [
{"n":5,"d":"8"},{"n":10,"d":"15"},{"n":15,"d":"22"},{"n":20,"d":"29"},{"n":25,"d":"5"},{"n":30,"d":"12"},{"n":35,"d":"19"},{"n":39,"d":"26"},{"n":44,"d":"3"},{"n":49,"d":"10"},{"n":54,"d":"17"},{"n":59,"d":"26"},{"n":65,"d":"7"},{"n":70,"d":"14"},{"n":75,"d":"21"},{"n":80,"d":"28"},{"n":85,"d":"4"},{"n":89,"d":"11"},{"n":94,"d":"18"},{"n":99,"d":"25"},{"n":104,"d":"4"},{"n":108,"d":"11"},{"n":113,"d":"18"},{"n":118,"d":"25"},{"n":123,"d":"1"},{"n":127,"d":"8"},{"n":132,"d":"15"},{"n":135,"d":""},{"n":140,"d":"29"},{"n":144,"d":"6"},{"n":149,"d":"13"},{"n":154,"d":"20"},{"n":159,"d":"27"},{"n":163,"d":"10"},{"n":168,"d":"17"},{"n":173,"d":"24"},{"n":178,"d":"1"},{"n":183,"d":"8"},{"n":188,"d":"15"},{"n":193,"d":"22"},{"n":198,"d":"29"},{"n":203,"d":"5"},{"n":208,"d":"12"},{"n":213,"d":"19"},{"n":218,"d":"26"},{"n":223,"d":"2"}
],
"months": [
{"n":0,"m":"October"},{"n":23,"m":"November"},{"n":44,"m":"December"},{"n":62,"m":"2019"},{"n":84,"m":"February"},{"n":103,"m":"March"},{"n":123,"m":"April"},{"n":142,"m":"May"},{"n":163,"m":"June"},{"n":178,"m":"July"},{"n":201,"m":"August"},{"n":223,"m":"September"}
]
},
"vconcat": [
{
"width": 1997, "height": 800,
"layer": [
{"data": {"name": "fib"}, "transform": [{"filter": "datum.s == 'd'"}],
 "mark": {"type": "rule", "strokeDash": [5, 4], "strokeWidth": 1.6, "clip": true},
 "encoding": {
  "x": {"field": "a", "type": "quantitative", "scale": {"domain": [3.6, 226.5], "nice": false, "zero": false}, "axis": null},
  "x2": {"field": "b"},
  "y": {"field": "p", "type": "quantitative", "title": null, "scale": {"domain": [248, 469.7], "nice": false, "zero": false},
   "axis": {"orient":"right","values":[250,255,260,265,270,275,280,285,290,295,300,305,310,315,320,325,330,335,340,345,350,355,360,365,370,375,380,385,390,395,400,405,410,415,420,425,430,435,440,445,450,455,460,465],"labelExpr":"datum.value % 10 === 0 && datum.value > 255 ? datum.label : ''","tickSize":{"condition":{"test":"datum.value % 10 === 0","value":15},"value":7},"labelAlign":"left","labelPadding":19,"format":"d"}},
  "color": {"field": "g", "type": "nominal", "legend": null,
   "scale": {"domain": ["b","k","r","dr","t1","t2","t3","t4","gl","w","p1","p2","p3"], "range": ["#3a3aff","#333333","#ff2b2b","#a32d2d","#a52a2a","#d6a3a3","#aaaaaa","#3a3a3a","#9a9a9a","#3a3aff","#b3b3dd","#8585ff","#9b9bf0"]}}
 }},
{"data": {"name": "fib"}, "transform": [{"filter": "datum.s == 's'"}],
 "mark": {"type": "rule", "strokeWidth": 2.5, "clip": true},
 "encoding": {
  "x": {"field": "a", "type": "quantitative"},
  "x2": {"field": "b"},
  "y": {"field": "p", "type": "quantitative", "title": null, "axis": {"orient":"right","values":[250,255,260,265,270,275,280,285,290,295,300,305,310,315,320,325,330,335,340,345,350,355,360,365,370,375,380,385,390,395,400,405,410,415,420,425,430,435,440,445,450,455,460,465],"labelExpr":"datum.value % 10 === 0 && datum.value > 255 ? datum.label : ''","tickSize":{"condition":{"test":"datum.value % 10 === 0","value":15},"value":7},"labelAlign":"left","labelPadding":19,"format":"d"}},
  "color": {"field": "g", "type": "nominal", "legend": null}
 }},
{"data": {"name": "ohlc"},
 "mark": {"type": "rule", "color": "#000", "strokeWidth": 1.2, "clip": true},
 "encoding": {
  "x": {"field": "n", "type": "quantitative"},
  "y": {"field": "l", "type": "quantitative", "title": null, "axis": {"orient":"right","values":[250,255,260,265,270,275,280,285,290,295,300,305,310,315,320,325,330,335,340,345,350,355,360,365,370,375,380,385,390,395,400,405,410,415,420,425,430,435,440,445,450,455,460,465],"labelExpr":"datum.value % 10 === 0 && datum.value > 255 ? datum.label : ''","tickSize":{"condition":{"test":"datum.value % 10 === 0","value":15},"value":7},"labelAlign":"left","labelPadding":19,"format":"d"}},
  "y2": {"field": "h"}
 }},
{"data": {"name": "ohlc"},
 "mark": {"type": "bar", "width": 6.5, "stroke": "#000", "strokeWidth": 1.2, "clip": true},
 "encoding": {
  "x": {"field": "n", "type": "quantitative"},
  "y": {"field": "o", "type": "quantitative", "title": null, "axis": {"orient":"right","values":[250,255,260,265,270,275,280,285,290,295,300,305,310,315,320,325,330,335,340,345,350,355,360,365,370,375,380,385,390,395,400,405,410,415,420,425,430,435,440,445,450,455,460,465],"labelExpr":"datum.value % 10 === 0 && datum.value > 255 ? datum.label : ''","tickSize":{"condition":{"test":"datum.value % 10 === 0","value":15},"value":7},"labelAlign":"left","labelPadding":19,"format":"d"}},
  "y2": {"field": "c"},
  "fill": {"condition": {"test": "datum.c < datum.o", "value": "#000000"}, "value": "#ffffff"}
 }},
{"data": {"name": "ma"},
 "mark": {"type": "line", "color": "#ff1f1f", "strokeWidth": 1.3, "clip": true},
 "encoding": {
  "x": {"field": "n", "type": "quantitative"},
  "y": {"field": "v", "type": "quantitative", "title": null, "axis": {"orient":"right","values":[250,255,260,265,270,275,280,285,290,295,300,305,310,315,320,325,330,335,340,345,350,355,360,365,370,375,380,385,390,395,400,405,410,415,420,425,430,435,440,445,450,455,460,465],"labelExpr":"datum.value % 10 === 0 && datum.value > 255 ? datum.label : ''","tickSize":{"condition":{"test":"datum.value % 10 === 0","value":15},"value":7},"labelAlign":"left","labelPadding":19,"format":"d"}}
 }},
{"data": {"name": "fiblab"},
 "mark": {"type": "text", "align": "right", "baseline": "middle", "font": "DejaVu Sans Condensed", "fontSize": 19, "clip": true},
 "encoding": {
  "x": {"field": "n", "type": "quantitative"},
  "y": {"field": "p", "type": "quantitative", "title": null, "axis": {"orient":"right","values":[250,255,260,265,270,275,280,285,290,295,300,305,310,315,320,325,330,335,340,345,350,355,360,365,370,375,380,385,390,395,400,405,410,415,420,425,430,435,440,445,450,455,460,465],"labelExpr":"datum.value % 10 === 0 && datum.value > 255 ? datum.label : ''","tickSize":{"condition":{"test":"datum.value % 10 === 0","value":15},"value":7},"labelAlign":"left","labelPadding":19,"format":"d"}},
  "text": {"field": "t"},
  "color": {"field": "g", "type": "nominal", "legend": null}
 }},
{"data": {"name": "wave"},
 "mark": {"type": "text", "align": "center", "baseline": "middle", "font": "DejaVu Sans Condensed", "fontSize": 18, "clip": true},
 "encoding": {
  "x": {"field": "n", "type": "quantitative"},
  "y": {"field": "p", "type": "quantitative", "title": null, "axis": {"orient":"right","values":[250,255,260,265,270,275,280,285,290,295,300,305,310,315,320,325,330,335,340,345,350,355,360,365,370,375,380,385,390,395,400,405,410,415,420,425,430,435,440,445,450,455,460,465],"labelExpr":"datum.value % 10 === 0 && datum.value > 255 ? datum.label : ''","tickSize":{"condition":{"test":"datum.value % 10 === 0","value":15},"value":7},"labelAlign":"left","labelPadding":19,"format":"d"}},
  "text": {"field": "t"},
  "color": {"field": "g", "type": "nominal", "legend": null}
 }},
{"data": {"name": "slide"},
 "mark": {"type": "text", "align": "left", "baseline": "alphabetic", "font": "Open Sans", "fontSize": 35, "color": "#13295d", "clip": true},
 "encoding": {
  "x": {"field": "n", "type": "quantitative"},
  "y": {"field": "p", "type": "quantitative", "title": null, "axis": {"orient":"right","values":[250,255,260,265,270,275,280,285,290,295,300,305,310,315,320,325,330,335,340,345,350,355,360,365,370,375,380,385,390,395,400,405,410,415,420,425,430,435,440,445,450,455,460,465],"labelExpr":"datum.value % 10 === 0 && datum.value > 255 ? datum.label : ''","tickSize":{"condition":{"test":"datum.value % 10 === 0","value":15},"value":7},"labelAlign":"left","labelPadding":19,"format":"d"}},
  "text": {"field": "t"}
 }},
{"data": {"name": "sos"},
 "mark": {"type": "text", "align": "left", "baseline": "alphabetic", "font": "Open Sans", "fontSize": 36, "fontWeight": "bold", "fontStyle": "italic", "color": "#13295d", "clip": true},
 "encoding": {
  "x": {"field": "n", "type": "quantitative"},
  "y": {"field": "p", "type": "quantitative", "title": null, "axis": {"orient":"right","values":[250,255,260,265,270,275,280,285,290,295,300,305,310,315,320,325,330,335,340,345,350,355,360,365,370,375,380,385,390,395,400,405,410,415,420,425,430,435,440,445,450,455,460,465],"labelExpr":"datum.value % 10 === 0 && datum.value > 255 ? datum.label : ''","tickSize":{"condition":{"test":"datum.value % 10 === 0","value":15},"value":7},"labelAlign":"left","labelPadding":19,"format":"d"}},
  "text": {"field": "t"}
 }},
{"data": {"name": "sosv"},
 "mark": {"type": "text", "align": "left", "baseline": "alphabetic", "font": "Open Sans", "fontSize": 37.5, "fontWeight": "bold", "color": "#13295d", "clip": true},
 "encoding": {
  "x": {"field": "n", "type": "quantitative"},
  "y": {"field": "p", "type": "quantitative", "title": null, "axis": {"orient":"right","values":[250,255,260,265,270,275,280,285,290,295,300,305,310,315,320,325,330,335,340,345,350,355,360,365,370,375,380,385,390,395,400,405,410,415,420,425,430,435,440,445,450,455,460,465],"labelExpr":"datum.value % 10 === 0 && datum.value > 255 ? datum.label : ''","tickSize":{"condition":{"test":"datum.value % 10 === 0","value":15},"value":7},"labelAlign":"left","labelPadding":19,"format":"d"}},
  "text": {"field": "t"}
 }},
{"data": {"name": "targets"},
 "mark": {"type": "text", "align": "center", "baseline": "middle", "font": "Open Sans", "fontSize": 30, "fontWeight": "bold", "color": "#1c2f6b", "clip": true},
 "encoding": {
  "x": {"field": "n", "type": "quantitative"},
  "y": {"field": "p", "type": "quantitative", "title": null, "axis": {"orient":"right","values":[250,255,260,265,270,275,280,285,290,295,300,305,310,315,320,325,330,335,340,345,350,355,360,365,370,375,380,385,390,395,400,405,410,415,420,425,430,435,440,445,450,455,460,465],"labelExpr":"datum.value % 10 === 0 && datum.value > 255 ? datum.label : ''","tickSize":{"condition":{"test":"datum.value % 10 === 0","value":15},"value":7},"labelAlign":"left","labelPadding":19,"format":"d"}},
  "text": {"field": "t"}
 }},
{"data": {"name": "projthin"},
 "mark": {"type": "rule", "color": "#2a4cff", "strokeWidth": 1.2, "clip": true},
 "encoding": {
  "x": {"field": "n", "type": "quantitative"},
  "y": {"field": "p", "type": "quantitative", "title": null, "axis": {"orient":"right","values":[250,255,260,265,270,275,280,285,290,295,300,305,310,315,320,325,330,335,340,345,350,355,360,365,370,375,380,385,390,395,400,405,410,415,420,425,430,435,440,445,450,455,460,465],"labelExpr":"datum.value % 10 === 0 && datum.value > 255 ? datum.label : ''","tickSize":{"condition":{"test":"datum.value % 10 === 0","value":15},"value":7},"labelAlign":"left","labelPadding":19,"format":"d"}},
  "x2": {"field": "n2"},
  "y2": {"field": "p2"}
 }},
{"data": {"name": "proj"},
 "mark": {"type": "rule", "color": "#1c3672", "strokeWidth": 5, "strokeDash": [13, 7], "clip": true},
 "encoding": {
  "x": {"field": "n", "type": "quantitative"},
  "y": {"field": "p", "type": "quantitative", "title": null, "axis": {"orient":"right","values":[250,255,260,265,270,275,280,285,290,295,300,305,310,315,320,325,330,335,340,345,350,355,360,365,370,375,380,385,390,395,400,405,410,415,420,425,430,435,440,445,450,455,460,465],"labelExpr":"datum.value % 10 === 0 && datum.value > 255 ? datum.label : ''","tickSize":{"condition":{"test":"datum.value % 10 === 0","value":15},"value":7},"labelAlign":"left","labelPadding":19,"format":"d"}},
  "x2": {"field": "n2"},
  "y2": {"field": "p2"}
 }},
{"data": {"name": "head"},
 "mark": {"type": "point", "shape": "triangle-down", "size": 420, "filled": true, "color": "#1c3672", "opacity": 1, "angle": 351, "clip": true},
 "encoding": {
  "x": {"field": "n", "type": "quantitative"},
  "y": {"field": "p", "type": "quantitative", "title": null, "axis": {"orient":"right","values":[250,255,260,265,270,275,280,285,290,295,300,305,310,315,320,325,330,335,340,345,350,355,360,365,370,375,380,385,390,395,400,405,410,415,420,425,430,435,440,445,450,455,460,465],"labelExpr":"datum.value % 10 === 0 && datum.value > 255 ? datum.label : ''","tickSize":{"condition":{"test":"datum.value % 10 === 0","value":15},"value":7},"labelAlign":"left","labelPadding":19,"format":"d"}}
 }},
{"data": {"name": "tag"},
 "mark": {"type": "rect", "color": "#000000"},
 "encoding": {
  "x": {"datum": 227.4, "type": "quantitative"},
  "x2": {"datum": 234.6},
  "y": {"datum": 387.7, "type": "quantitative", "title": null, "axis": {"orient":"right","values":[250,255,260,265,270,275,280,285,290,295,300,305,310,315,320,325,330,335,340,345,350,355,360,365,370,375,380,385,390,395,400,405,410,415,420,425,430,435,440,445,450,455,460,465],"labelExpr":"datum.value % 10 === 0 && datum.value > 255 ? datum.label : ''","tickSize":{"condition":{"test":"datum.value % 10 === 0","value":15},"value":7},"labelAlign":"left","labelPadding":19,"format":"d"}},
  "y2": {"datum": 380.5}
 }},
{"data": {"name": "tag"},
 "mark": {"type": "text", "align": "center", "baseline": "middle", "font": "DejaVu Sans Condensed", "fontSize": 16, "color": "#ff1a1a"},
 "encoding": {
  "x": {"datum": 231.0, "type": "quantitative"},
  "y": {"field": "p", "type": "quantitative", "title": null, "axis": {"orient":"right","values":[250,255,260,265,270,275,280,285,290,295,300,305,310,315,320,325,330,335,340,345,350,355,360,365,370,375,380,385,390,395,400,405,410,415,420,425,430,435,440,445,450,455,460,465],"labelExpr":"datum.value % 10 === 0 && datum.value > 255 ? datum.label : ''","tickSize":{"condition":{"test":"datum.value % 10 === 0","value":15},"value":7},"labelAlign":"left","labelPadding":19,"format":"d"}},
  "text": {"field": "t"}
 }}
]
},
{
"width": 2073, "height": 50,
"view": {"fill": "#c5d0dc", "stroke": "#8c8c8c", "strokeWidth": 2},
"layer": [
{"data": {"name": "btn"},
 "mark": {"type": "point", "shape": "square", "size": 650, "filled": true, "fill": "#f4f4f4", "stroke": "#555555", "strokeWidth": 1.5, "opacity": 1},
 "encoding": {
  "x": {"field": "n", "type": "quantitative", "scale": {"domain": [3.6, 234.96], "nice": false, "zero": false}, "axis": null},
  "y": {"datum": 0.46, "type": "quantitative", "scale": {"domain": [0, 1], "nice": false}, "axis": null}
 }},
{"data": {"name": "btn"},
 "mark": {"type": "text", "align": "center", "baseline": "middle", "font": "DejaVu Sans", "fontSize": 20, "fontWeight": "bold", "color": "#000"},
 "encoding": {
  "x": {"field": "n", "type": "quantitative"},
  "y": {"datum": 0.46, "type": "quantitative"},
  "text": {"field": "t"}
 }},
{"data": {"name": "hdr"},
 "mark": {"type": "text", "align": "left", "baseline": "middle", "font": "Liberation Sans", "fontSize": 18},
 "encoding": {
  "x": {"field": "n", "type": "quantitative"},
  "y": {"datum": 0.46, "type": "quantitative"},
  "text": {"field": "t"},
  "color": {"field": "g", "type": "nominal", "legend": null, "scale": {"domain": ["lab", "m", "s"], "range": ["#000000", "#1f1f8f", "#ff2020"]}}
 }}
]
},
{
"width": 1997, "height": 152,
"resolve": {"scale": {"y": "independent"}},
"layer": [
{"data": {"name": "vol"},
 "mark": {"type": "rule", "color": "#ff1a1a", "strokeWidth": 1.3, "clip": true},
 "encoding": {
  "x": {"field": "n", "type": "quantitative", "scale": {"domain": [3.6, 226.5], "nice": false, "zero": false}, "axis": null},
  "y": {"field": "v", "type": "quantitative", "scale": {"domain": [0, 280], "nice": false}, "axis": null},
  "y2": {"datum": 0}
 }},
{"data": {"name": "hist"},
 "mark": {"type": "rule", "color": "#1d1d9a", "strokeWidth": 1.3, "clip": true},
 "encoding": {
  "x": {"field": "n", "type": "quantitative"},
  "y": {"field": "h", "type": "quantitative", "scale": {"domain": [-28.57, 25.71], "nice": false, "zero": false},
   "axis": {"orient": "right", "title": null, "values": [-25,-20,-15,-10,-5,0,5,10,15,20],
    "labelExpr": "datum.value % 10 === 0 && datum.value < 20 ? toString(datum.value) : ''",
    "tickSize": 12, "labelAlign": "right", "labelPadding": 58, "labelOverlap": false, "labelFlush": false, "grid": false}},
  "y2": {"datum": 0}
 }},
{"data": {"name": "hl"},
 "mark": {"type": "rule", "color": "#2b2bf2", "strokeWidth": 2.5},
 "encoding": {
  "y": {"field": "v", "type": "quantitative", "scale": {"domain": [-28.57, 25.71], "nice": false, "zero": false}, "axis": null}
 }},
{"data": {"name": "sig"},
 "mark": {"type": "line", "color": "#ff2020", "strokeWidth": 3.2, "clip": true},
 "encoding": {
  "x": {"field": "n", "type": "quantitative"},
  "y": {"field": "v", "type": "quantitative", "scale": {"domain": [-28.57, 25.71], "nice": false, "zero": false}, "axis": null}
 }},
{"data": {"name": "d"},
 "mark": {"type": "line", "color": "#1f1f8c", "strokeWidth": 1.6, "clip": true},
 "encoding": {
  "x": {"field": "n", "type": "quantitative"},
  "y": {"field": "v", "type": "quantitative", "scale": {"domain": [-2.14, 105.5], "nice": false, "zero": false}, "axis": null}
 }},
{"data": {"name": "k"},
 "mark": {"type": "line", "color": "#ff2a2a", "strokeWidth": 1.6, "clip": true},
 "encoding": {
  "x": {"field": "n", "type": "quantitative"},
  "y": {"field": "v", "type": "quantitative", "scale": {"domain": [-2.14, 105.5], "nice": false, "zero": false}, "axis": null}
 }}
]
},
{
"width": 1997, "height": 58,
"view": {"stroke": "#000000", "strokeWidth": 1.5},
"layer": [
{"data": {"name": "weeks"},
 "mark": {"type": "rule", "color": "#000", "strokeWidth": 1.3, "clip": true},
 "encoding": {
  "x": {"field": "n", "type": "quantitative", "scale": {"domain": [3.6, 226.5], "nice": false, "zero": false}, "axis": null},
  "y": {"datum": 2, "type": "quantitative", "scale": {"domain": [0, 2], "nice": false}, "axis": null},
  "y2": {"datum": 0.93}
 }},
{"data": {"name": "weeks"},
 "mark": {"type": "text", "align": "left", "baseline": "middle", "dx": 4, "font": "DejaVu Sans Condensed", "fontSize": 20, "color": "#000", "clip": true},
 "encoding": {
  "x": {"field": "n", "type": "quantitative"},
  "y": {"datum": 1.45, "type": "quantitative"},
  "text": {"field": "d"}
 }},
{"data": {"name": "months"},
 "mark": {"type": "rule", "color": "#000", "strokeWidth": 1.3, "clip": true},
 "encoding": {
  "x": {"field": "n", "type": "quantitative"},
  "y": {"datum": 2, "type": "quantitative"},
  "y2": {"datum": 0}
 }},
{"data": {"name": "months"},
 "mark": {"type": "text", "align": "left", "baseline": "middle", "dx": 4, "font": "DejaVu Sans Condensed", "fontSize": 19.5, "color": "#000", "clip": true},
 "encoding": {
  "x": {"field": "n", "type": "quantitative"},
  "y": {"datum": 0.5, "type": "quantitative"},
  "text": {"field": "m"}
 }}
]
}
]
}
